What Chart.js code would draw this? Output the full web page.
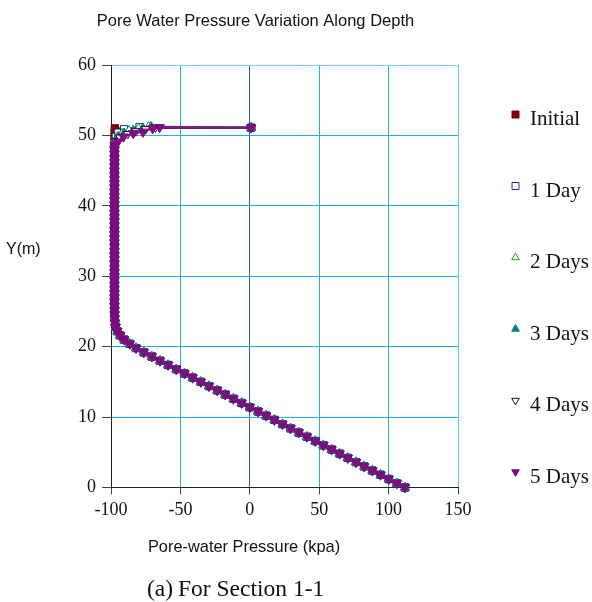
<!DOCTYPE html>
<html>
<head>
<meta charset="utf-8">
<script src="https://cdn.jsdelivr.net/npm/chart.js@4/dist/chart.umd.min.js"></script>
<style>
  html, body { margin: 0; padding: 0; background: #ffffff; }
  canvas { display: block; }
</style>
</head>
<body>
<canvas id="c" width="592" height="602"></canvas>
<script>
// ---- data (elevation Y in m, pore-water pressure in kPa) ----
const seriesNames = ['Initial', '1 Day', '2 Days', '3 Days', '4 Days', '5 Days'];
const xTickValues = [-100, -50, 0, 50, 100, 150];
const yTickValues = [0, 10, 20, 30, 40, 50, 60];

// nodes shared by every time step below the crest zone
const lowerDepth = [
  0.0, 0.6, 1.2, 1.8, 2.4, 3.0, 3.6, 4.2, 4.8, 5.4,
  6.0, 6.6, 7.2, 7.8, 8.4, 9.0, 9.6, 10.2, 10.8, 11.4,
  12.0, 12.6, 13.2, 13.8, 14.4, 15.0, 15.6, 16.2, 16.8, 17.4,
  18.0, 18.6, 19.2, 19.8, 20.4, 21.0, 21.6, 22.2, 22.8, 23.4,
  24.0, 24.6, 25.2, 25.8, 26.4, 27.0, 27.6, 28.2, 28.8, 29.4,
  30.0, 30.6, 31.2, 31.8, 32.4, 33.0, 33.6, 34.2, 34.8, 35.4,
  36.0, 36.6, 37.2, 37.8, 38.4, 39.0, 39.6, 40.2, 40.8, 41.4,
  42.0, 42.6, 43.2, 43.8, 44.4, 45.0, 45.6, 46.2, 46.8, 47.4,
  48.0, 48.6
];
const lowerPressure = [
  111.8, 105.9, 100.1, 94.2, 88.3, 82.4, 76.5, 70.6, 64.7, 58.9,
  53.0, 47.1, 41.2, 35.3, 29.4, 23.5, 17.7, 11.8, 5.9, 0.0,
  -5.9, -11.8, -17.7, -23.5, -29.4, -35.3, -41.2, -47.1, -53.0, -58.9,
  -64.7, -70.6, -76.4, -82.0, -86.5, -90.5, -93.5, -95.5, -96.6, -97.1,
  -97.3, -97.4, -97.4, -97.5, -97.5, -97.5, -97.5, -97.5, -97.5, -97.5,
  -97.5, -97.5, -97.5, -97.5, -97.5, -97.5, -97.5, -97.5, -97.5, -97.5,
  -97.5, -97.5, -97.5, -97.5, -97.5, -97.5, -97.5, -97.5, -97.5, -97.5,
  -97.5, -97.5, -97.5, -97.5, -97.5, -97.5, -97.5, -97.5, -97.5, -97.5,
  -97.5, -97.4
];

// crest zone, ending at the surface node
const initialTopDepth    = [49.2, 49.8, 50.4, 51.0, 51.1];
const initialTopPressure = [-97.4, -97.4, -97.3, -97.2, 1.0];
const day1TopDepth       = [49.2, 49.8, 50.4, 50.9, 51.2, 51.1];
const day1TopPressure    = [-97.3, -96.6, -94.8, -90.6, -79.5, 1.0];
const day2TopDepth       = [49.2, 49.8, 50.3, 50.7, 51.0, 51.25, 51.1];
const day2TopPressure    = [-97.0, -95.5, -92.0, -87.0, -80.0, -73.0, 1.0];
const day3TopDepth       = [49.2, 49.8, 50.3, 50.7, 51.0, 51.2, 51.1];
const day3TopPressure    = [-96.8, -94.5, -90.5, -84.0, -77.0, -71.0, 1.0];
const day4TopDepth       = [49.2, 49.7, 50.2, 50.6, 50.9, 51.15, 51.1];
const day4TopPressure    = [-96.5, -93.5, -88.0, -82.0, -75.0, -68.0, 1.0];
const day5TopDepth       = [49.1, 49.8, 50.3, 50.5, 51.0, 51.15, 51.1];
const day5TopPressure    = [-95.0, -91.0, -84.0, -77.0, -70.0, -65.0, 1.0];

const topDepths    = [initialTopDepth, day1TopDepth, day2TopDepth, day3TopDepth, day4TopDepth, day5TopDepth];
const topPressures = [initialTopPressure, day1TopPressure, day2TopPressure, day3TopPressure, day4TopPressure, day5TopPressure];

// ---- styles ----
const seriesStyles = [
  { color: '#7f0000', fill: '#7f0000', line: '#7f0000', shape: 'rect',     rot: 0,   r: 5.2 },
  { color: '#2b2ba8', fill: '#ffffff', line: '#2b2ba8', shape: 'rect',     rot: 0,   r: 5.0 },
  { color: '#1c9a1c', fill: '#ffffff', line: '#1c9a1c', shape: 'triangle', rot: 0,   r: 5.0 },
  { color: '#007f7f', fill: '#007f7f', line: '#007f7f', shape: 'triangle', rot: 0,   r: 5.3 },
  { color: '#111111', fill: '#ffffff', line: '#333333', shape: 'triangle', rot: 180, r: 5.0 },
  { color: '#7f0a7f', fill: '#820a82', line: '#86168a', shape: 'triangle', rot: 180, r: 5.5 }
];

function buildPoints(k) {
  const ys = lowerDepth.concat(topDepths[k]);
  const xs = lowerPressure.concat(topPressures[k]);
  return ys.map((y, i) => ({ x: xs[i], y: y }));
}

const datasets = seriesNames.map((name, k) => {
  const s = seriesStyles[k];
  return {
    label: name,
    data: buildPoints(k),
    showLine: true,
    borderColor: s.line,
    borderWidth: 2,
    pointStyle: s.shape,
    pointRotation: s.rot,
    pointRadius: s.r,
    pointBorderWidth: 1,
    pointBorderColor: s.color,
    pointBackgroundColor: s.fill,
    order: seriesNames.length - k,
    clip: false
  };
});

// ---- marker drawing for the side key ----
function drawMarker(ctx, s, x, y) {
  ctx.save();
  ctx.lineWidth = 1;
  ctx.strokeStyle = s.color;
  ctx.fillStyle = s.fill;
  ctx.beginPath();
  if (s.shape === 'rect') {
    ctx.rect(x - 3.5, y - 3.5, 7, 7);
  } else {
    const r = 4.4;
    const dir = s.rot === 180 ? 1 : -1;
    ctx.moveTo(x, y + dir * r);
    ctx.lineTo(x - r * 0.866, y - dir * r * 0.5);
    ctx.lineTo(x + r * 0.866, y - dir * r * 0.5);
    ctx.closePath();
  }
  ctx.fill();
  ctx.stroke();
  ctx.restore();
}

const textPlugin = {
  id: 'textPlugin',
  afterDraw(chart) {
    const ctx = chart.ctx;
    ctx.save();
    ctx.fillStyle = '#111111';
    ctx.textBaseline = 'alphabetic';

    ctx.font = '16.5px "Liberation Sans", Arial, sans-serif';
    ctx.textAlign = 'center';
    ctx.fillText('Pore Water Pressure Variation Along Depth', 255.5, 26);
    ctx.font = '16.4px "Liberation Sans", Arial, sans-serif';
    ctx.fillText('Pore-water Pressure (kpa)', 244, 552);
    ctx.font = '16px "Liberation Sans", Arial, sans-serif';
    ctx.textAlign = 'left';
    ctx.fillText('Y(m)', 6, 254);

    ctx.font = '23.5px "Liberation Serif", "Times New Roman", serif';
    ctx.textAlign = 'left';
    ctx.fillText('(a)', 147, 596);
    ctx.fillText('For Section 1-1', 178, 596);

    // key
    ctx.font = '21px "Liberation Serif", "Times New Roman", serif';
    const keyY = [114.5, 186, 257.5, 329, 400.5, 472];
    seriesNames.forEach((name, k) => {
      drawMarker(ctx, seriesStyles[k], 515.5, keyY[k]);
      ctx.fillStyle = '#111111';
      ctx.fillText(name, 530, keyY[k] + 10.5);
    });
    ctx.restore();
  }
};

const gridBlue = '#22aeea';

new Chart(document.getElementById('c'), {
  type: 'scatter',
  data: { datasets: datasets },
  options: {
    responsive: false,
    animation: false,
    devicePixelRatio: 1,
    layout: { padding: { left: 0, right: 134, top: 65, bottom: 0 } },
    plugins: {
      legend: { display: false },
      title: { display: false },
      tooltip: { enabled: false }
    },
    scales: {
      x: {
        type: 'linear',
        min: xTickValues[0],
        max: xTickValues[xTickValues.length - 1],
        afterBuildTicks(scale) { scale.ticks = xTickValues.map(v => ({ value: v })); },
        afterFit(scale) { scale.height = 114.5; },
        ticks: {
          padding: 5,
          color: '#111111',
          font: { family: '"Liberation Serif", "Times New Roman", serif', size: 18 },
          maxRotation: 0
        },
        grid: {
          color: (c) => {
            const v = c.tick ? c.tick.value : null;
            if (v === 0) return '#1f62a0';
            if (v === 150) return '#5cc6ef';
            return gridBlue;
          },
          lineWidth: 1,
          tickLength: 7,
          tickColor: '#444444'
        },
        border: { display: true, color: '#222222', width: 1 }
      },
      y: {
        type: 'linear',
        min: yTickValues[0],
        max: yTickValues[yTickValues.length - 1],
        afterBuildTicks(scale) { scale.ticks = yTickValues.map(v => ({ value: v })); },
        afterFit(scale) { scale.width = 111; },
        ticks: {
          padding: 6,
          color: '#111111',
          font: { family: '"Liberation Serif", "Times New Roman", serif', size: 18 }
        },
        grid: {
          color: (c) => {
            const v = c.tick ? c.tick.value : null;
            if (v === 0) return '#222222';
            if (v === 60) return '#7fd3f2';
            return gridBlue;
          },
          lineWidth: 1,
          tickLength: 9,
          tickColor: '#444444'
        },
        border: { display: true, color: '#222222', width: 1 }
      }
    }
  },
  plugins: [textPlugin]
});
</script>
</body>
</html>
